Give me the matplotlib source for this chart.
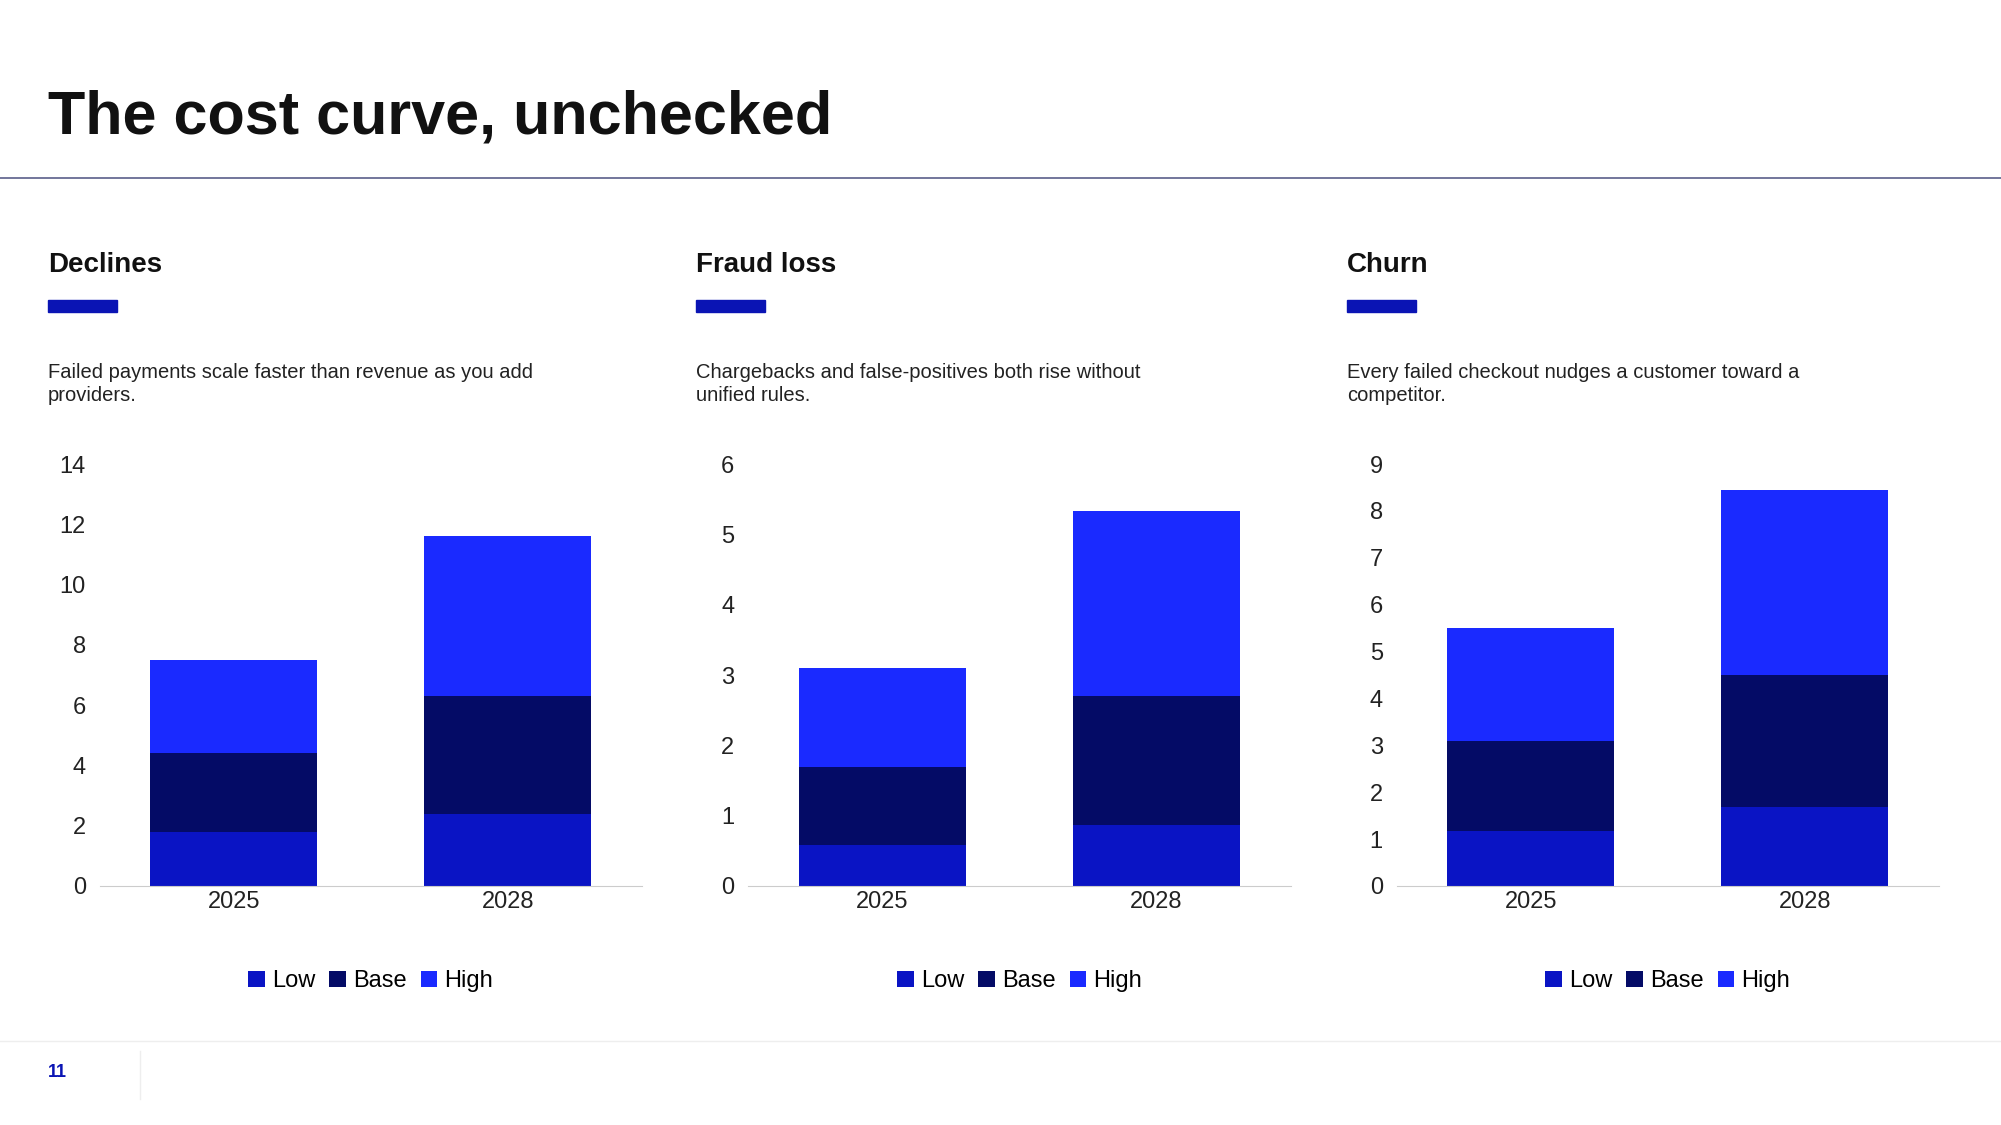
import matplotlib.pyplot as plt
from matplotlib.patches import Rectangle

plt.rcParams['font.family'] = ['Liberation Sans', 'DejaVu Sans']

years = ['2025', '2028']
series = ['Low', 'Base', 'High']
colors = ['#0a14c4', '#040b66', '#1a2aff']

panel_titles = ['Declines', 'Fraud loss', 'Churn']
panel_notes = [
    'Failed payments scale faster than revenue as you add\nproviders.',
    'Chargebacks and false-positives both rise without\nunified rules.',
    'Every failed checkout nudges a customer toward a\ncompetitor.',
]
# stacked segment values per panel: Low, Base, High
declines = {'Low': [1.8, 2.4], 'Base': [2.6, 3.9], 'High': [3.1, 5.3]}
fraud = {'Low': [0.58, 0.87], 'Base': [1.11, 1.83], 'High': [1.41, 2.63]}
churn = {'Low': [1.17, 1.69], 'Base': [1.93, 2.81], 'High': [2.4, 3.95]}
panel_data = [declines, fraud, churn]
y_max = [14, 6, 9]
y_step = [2, 1, 1]

fig = plt.figure(figsize=(20.01, 11.25), dpi=100)
fig.text(0.024, 0.895, 'The cost curve, unchecked', fontsize=44, fontweight='bold',
         va='center', ha='left', color='#111111')
fig.add_artist(plt.Line2D([0, 1], [0.842, 0.842], color='#5a5f8a', lw=1.2))

lefts = [0.0498, 0.374, 0.698]
text_x = [0.024, 0.348, 0.673]
for i in range(3):
    tx = text_x[i]
    fig.text(tx, 0.764, panel_titles[i], fontsize=20, fontweight='bold', va='center', color='#111111')
    fig.add_artist(Rectangle((tx, 0.723), 0.0345, 0.0105, color='#0a14b4', transform=fig.transFigure))
    fig.text(tx, 0.677, panel_notes[i], fontsize=14.5, va='top', color='#222222', linespacing=1.25)

    ax = fig.add_axes([lefts[i], 0.2125, 0.271, 0.375])
    bottom = [0, 0]
    data = panel_data[i]
    for s, c in zip(series, colors):
        ax.bar([0, 1], data[s], bottom=bottom, width=0.61, color=c, label=s)
        bottom = [b + v for b, v in zip(bottom, data[s])]
    ax.set_xlim(-0.49, 1.49)
    ax.set_ylim(0, y_max[i])
    ax.set_yticks(range(0, y_max[i] + 1, y_step[i]))
    ax.set_xticks([0, 1])
    ax.set_xticklabels(years)
    ax.tick_params(length=0, labelsize=17, colors='#222222')
    ax.tick_params(axis='y', pad=10)
    for sp in ['top', 'right', 'left']:
        ax.spines[sp].set_visible(False)
    ax.spines['bottom'].set_color('#cccccc')
    ax.legend(loc='upper center', bbox_to_anchor=(0.5, -0.15), ncol=3, frameon=False,
              fontsize=17, handlelength=0.7, handleheight=0.7, handletextpad=0.3,
              columnspacing=0.6)

fig.add_artist(plt.Line2D([0, 1], [0.075, 0.075], color='#eeeeee', lw=1))
fig.add_artist(plt.Line2D([0.0702, 0.0702], [0.023, 0.066], color='#eeeeee', lw=1))
fig.text(0.024, 0.047, '11', fontsize=13, fontweight='bold', color='#0a14b4', va='center')

fig.savefig('out.png', dpi=100)
